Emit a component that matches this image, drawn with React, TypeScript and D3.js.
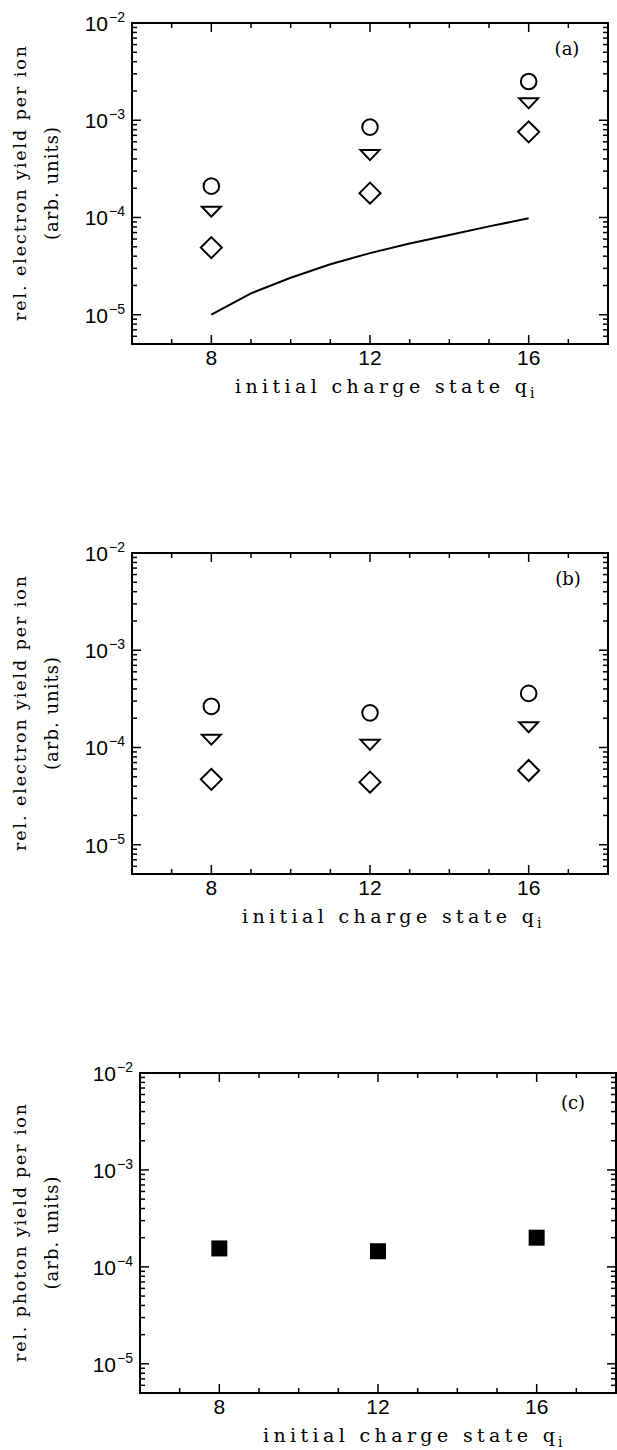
import * as d3 from "d3";

// initial charge states where the measurements were taken
const charges = [8, 12, 16];

// panel (a): electron yield, three symbols + calculated curve
const aCircle = [2.1e-4, 8.5e-4, 2.5e-3];
const aTriangle = [1.15e-4, 4.4e-4, 1.5e-3];
const aDiamond = [4.9e-5, 1.78e-4, 7.6e-4];
const aCurveQ = [8, 9, 10, 11, 12, 13, 14, 15, 16];
const aCurve = [1.0e-5, 1.66e-5, 2.4e-5, 3.3e-5, 4.3e-5, 5.4e-5, 6.6e-5, 8.1e-5, 9.8e-5];

// panel (b): electron yield
const bCircle = [2.65e-4, 2.27e-4, 3.6e-4];
const bTriangle = [1.21e-4, 1.07e-4, 1.62e-4];
const bDiamond = [4.7e-5, 4.4e-5, 5.8e-5];

// panel (c): photon yield
const cSquare = [1.55e-4, 1.45e-4, 2.0e-4];

// axes
const yTickExps = [-2, -3, -4, -5];
const xTickLabels = [8, 12, 16];
const qDomain = [6, 18];
const yDomain = [5e-6, 1e-2];

const SERIF = "DejaVu Serif";
const SANS = "Liberation Sans";

const Panel = ({ box, tag, tagPos, yLabel, yLabelLen, xLabelX, children }) => {
  const { left, right, top, bottom } = box;
  const x = d3.scaleLinear().domain(qDomain).range([left, right]);
  const y = d3.scaleLog().domain(yDomain).range([bottom, top]);

  const qTicks = d3.range(qDomain[0] + 1, qDomain[1]);
  const yTicks = [];
  for (let e = -6; e <= -2; e++) {
    for (let m = 1; m <= 9; m++) {
      const v = m * Math.pow(10, e);
      if (v > yDomain[0] * 1.0001 && v < yDomain[1] * 0.9999) yTicks.push({ v, major: m === 1 });
    }
  }
  const midY = (top + bottom) / 2;

  return (
    <g>
      {/* ticks, all pointing inward */}
      {qTicks.map((q) => {
        const len = xTickLabels.includes(q) ? 9 : 5;
        return (
          <g key={"q" + q}>
            <line x1={x(q)} x2={x(q)} y1={bottom} y2={bottom - len} stroke="#000" strokeWidth={1.5} />
            <line x1={x(q)} x2={x(q)} y1={top} y2={top + len} stroke="#000" strokeWidth={1.5} />
          </g>
        );
      })}
      {yTicks.map((t, i) => {
        const len = t.major ? 9 : 5;
        return (
          <g key={"y" + i}>
            <line x1={left} x2={left + len} y1={y(t.v)} y2={y(t.v)} stroke="#000" strokeWidth={1.5} />
            <line x1={right} x2={right - len} y1={y(t.v)} y2={y(t.v)} stroke="#000" strokeWidth={1.5} />
          </g>
        );
      })}

      {/* frame */}
      <rect x={left} y={top} width={right - left} height={bottom - top} fill="none" stroke="#000" strokeWidth={2} />

      {/* y tick labels */}
      {yTickExps.map((e) => (
        <g key={"yl" + e} fontFamily={SANS} fill="#000">
          <text x={left - 24} y={y(Math.pow(10, e)) + 8} textAnchor="end" fontSize={21}>10</text>
          <text x={left - 23} y={y(Math.pow(10, e)) - 1} fontSize={14}>{"\u2212" + Math.abs(e)}</text>
        </g>
      ))}

      {/* x tick labels */}
      {xTickLabels.map((q) => (
        <text key={"xl" + q} x={x(q)} y={bottom + 21} textAnchor="middle" fontFamily={SANS} fontSize={21}>
          {q}
        </text>
      ))}

      {/* x axis title */}
      <text x={xLabelX} y={bottom + 49} fontFamily={SERIF} fontSize={19} textLength={292} lengthAdjust="spacing">
        initial charge state q
      </text>
      <text x={xLabelX + 295} y={bottom + 54} fontFamily={SERIF} fontSize={14}>i</text>

      {/* y axis title */}
      <text
        transform={`translate(${26},${midY}) rotate(-90)`}
        textAnchor="middle"
        fontFamily={SERIF}
        fontSize={17.5}
        textLength={yLabelLen}
        lengthAdjust="spacing"
      >
        {yLabel}
      </text>
      <text
        transform={`translate(${58},${midY}) rotate(-90)`}
        textAnchor="middle"
        fontFamily={SERIF}
        fontSize={18}
        textLength={113}
        lengthAdjust="spacing"
      >
        (arb. units)
      </text>

      {/* panel tag */}
      <text x={tagPos[0]} y={tagPos[1]} textAnchor="middle" fontFamily={SERIF} fontSize={18}>
        {tag}
      </text>

      {children(x, y)}
    </g>
  );
};

const Circles = ({ x, y, vals }) => (
  <>
    {vals.map((v, i) => (
      <circle key={i} cx={x(charges[i])} cy={y(v)} r={7.8} fill="none" stroke="#000" strokeWidth={2} />
    ))}
  </>
);

const Triangles = ({ x, y, vals }) => (
  <>
    {vals.map((v, i) => {
      const cx = x(charges[i]);
      const cy = y(v);
      return (
        <path
          key={i}
          d={`M${cx - 9.5},${cy - 4.8}L${cx + 9.5},${cy - 4.8}L${cx},${cy + 5.2}Z`}
          fill="none"
          stroke="#000"
          strokeWidth={2}
          strokeLinejoin="miter"
        />
      );
    })}
  </>
);

const Diamonds = ({ x, y, vals }) => (
  <>
    {vals.map((v, i) => {
      const cx = x(charges[i]);
      const cy = y(v);
      const r = 10.5;
      return (
        <path
          key={i}
          d={`M${cx},${cy - r}L${cx + r},${cy}L${cx},${cy + r}L${cx - r},${cy}Z`}
          fill="none"
          stroke="#000"
          strokeWidth={2}
        />
      );
    })}
  </>
);

const Squares = ({ x, y, vals }) => (
  <>
    {vals.map((v, i) => (
      <rect key={i} x={x(charges[i]) - 8} y={y(v) - 8} width={16} height={16} fill="#000" />
    ))}
  </>
);

function App() {
  return (
    <div style={{ position: "absolute", left: 0, top: 0 }}>
      <svg width={617} height={1450} style={{ display: "block", background: "#fff" }}>
        <Panel
          box={{ left: 132, right: 608, top: 23, bottom: 344 }}
          tag="(a)"
          tagPos={[567, 55]}
          yLabel="rel. electron yield per ion"
          yLabelLen={275}
          xLabelX={235}
        >
          {(x, y) => {
            const line = d3
              .line()
              .x((d) => x(d[0]))
              .y((d) => y(d[1]));
            return (
              <g>
                <path d={line(aCurveQ.map((q, i) => [q, aCurve[i]]))} fill="none" stroke="#000" strokeWidth={2} />
                <Circles x={x} y={y} vals={aCircle} />
                <Triangles x={x} y={y} vals={aTriangle} />
                <Diamonds x={x} y={y} vals={aDiamond} />
              </g>
            );
          }}
        </Panel>

        <Panel
          box={{ left: 132, right: 608, top: 553, bottom: 874 }}
          tag="(b)"
          tagPos={[568, 585]}
          yLabel="rel. electron yield per ion"
          yLabelLen={275}
          xLabelX={242}
        >
          {(x, y) => (
            <g>
              <Circles x={x} y={y} vals={bCircle} />
              <Triangles x={x} y={y} vals={bTriangle} />
              <Diamonds x={x} y={y} vals={bDiamond} />
            </g>
          )}
        </Panel>

        <Panel
          box={{ left: 140, right: 616, top: 1073, bottom: 1393 }}
          tag="(c)"
          tagPos={[573, 1109]}
          yLabel="rel. photon yield per ion"
          yLabelLen={258}
          xLabelX={263}
        >
          {(x, y) => (
            <g>
              <Squares x={x} y={y} vals={cSquare} />
            </g>
          )}
        </Panel>
      </svg>
    </div>
  );
}

export default App;
